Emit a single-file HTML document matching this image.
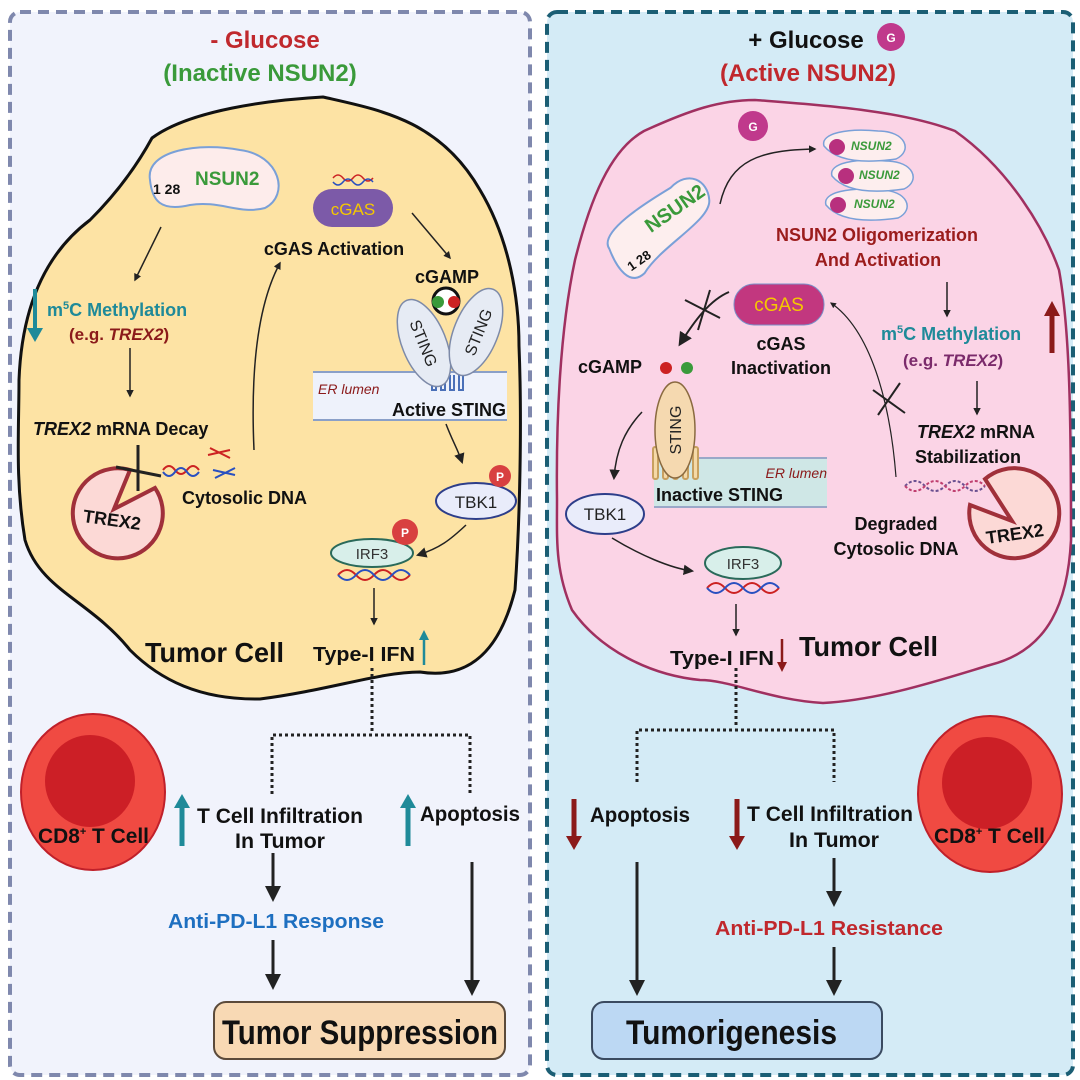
<!DOCTYPE html>
<html><head><meta charset="utf-8"><style>
html,body{margin:0;padding:0;background:#fff}
svg{display:block}
text{font-family:"Liberation Sans",sans-serif;font-weight:bold}
</style></head><body>
<svg width="1080" height="1080" viewBox="0 0 1080 1080" xmlns="http://www.w3.org/2000/svg">
<defs>
<marker id="ah" viewBox="0 0 10 10" refX="8" refY="5" markerWidth="5" markerHeight="5" orient="auto"><path d="M0,0L10,5L0,10z" fill="#222"/></marker>
<marker id="ahs" viewBox="0 0 10 10" refX="8" refY="5" markerWidth="7" markerHeight="7" orient="auto"><path d="M0,0L10,5L0,10z" fill="#222"/></marker>
</defs>
<rect x="10" y="12" width="520" height="1063" rx="10" fill="#f1f3fc" stroke="#7f88ad" stroke-width="4" stroke-dasharray="11,7"/>
<rect x="547" y="12" width="526" height="1063" rx="10" fill="#d4ebf6" stroke="#1b5e74" stroke-width="4" stroke-dasharray="11,7"/>

<path d="M152,138 C190,110 270,100 323,97 C380,110 440,120 480,190 C510,240 519,300 519,346 C522,420 520,520 515,590 C500,650 470,680 420,672 C380,672 330,690 260,699 C200,700 160,680 130,650 C90,600 40,590 25,540 C15,480 19,430 19,380 C22,300 50,250 90,220 C120,190 140,160 152,138Z" fill="#fde3a4" stroke="#111" stroke-width="3"/>
<path d="M644,131 C690,110 720,100 755,100 C820,105 900,110 955,131 C1010,170 1045,230 1059,270 C1070,330 1071,420 1071,540 C1068,600 1050,650 990,665 C940,680 880,700 823,703 C770,700 730,680 700,680 C650,675 600,650 572,610 C555,570 557,540 557,500 C556,420 560,330 575,260 C590,200 610,150 644,131Z" fill="#fbd4e6" stroke="#a03060" stroke-width="2.5"/>

<text x="265" y="48" font-size="24" fill="#c0282d" text-anchor="middle">- Glucose</text>
<text x="260" y="81" font-size="24" fill="#3a9a3a" text-anchor="middle">(Inactive NSUN2)</text>
<text x="806" y="48" font-size="24" fill="#111" text-anchor="middle">+ Glucose</text>
<circle cx="891" cy="37" r="14" fill="#c0398c"/><text x="891" y="42" font-size="12" fill="#fff" text-anchor="middle">G</text>
<text x="808" y="81" font-size="24" fill="#c0282d" text-anchor="middle">(Active NSUN2)</text>

<path d="M150,180 C145,150 200,142 240,150 C280,155 290,195 265,208 C240,215 220,200 190,205 C160,212 152,200 150,180Z" fill="#fdeceb" stroke="#7aa0d8" stroke-width="2"/>
<text x="153" y="194" font-size="14" fill="#111">1 28</text>
<text x="195" y="185" font-size="19" fill="#3a9a3a">NSUN2</text>
<path d="M333,178 q5,-6 10,0 t10,0 t10,0 t10,0" stroke="#c22" stroke-width="1.5" fill="none"/>
<path d="M333,182 q5,6 10,0 t10,0 t10,0 t10,0" stroke="#2950c0" stroke-width="1.5" fill="none"/>
<rect x="313" y="189" width="80" height="38" rx="19" fill="#7c5aa8"/>
<text x="353" y="215" font-size="17" fill="#f5c800" text-anchor="middle" style="font-weight:normal">cGAS</text>
<text x="334" y="255" font-size="18" fill="#111" text-anchor="middle">cGAS Activation</text>
<line x1="161" y1="227" x2="135" y2="280" stroke="#222" stroke-width="1.5" marker-end="url(#ah)"/>
<line x1="35" y1="289" x2="35" y2="330" stroke="#1f8a99" stroke-width="4"/>
<path d="M27,328 L43,328 L35,342Z" fill="#1f8a99"/>
<text x="47" y="316" font-size="18" fill="#1f8a99">m<tspan font-size="11" dy="-7">5</tspan><tspan dy="7">C Methylation</tspan></text>
<text x="69" y="340" font-size="17" fill="#8b1a1a">(e.g. <tspan font-style="italic">TREX2</tspan>)</text>
<line x1="130" y1="348" x2="130" y2="396" stroke="#222" stroke-width="1.5" marker-end="url(#ah)"/>
<text x="33" y="435" font-size="18" fill="#111"><tspan font-style="italic">TREX2</tspan> mRNA Decay</text>
<path d="M114,509 L130,470 A45,45 0 1,0 155,488 Z" fill="#fcd9d6" stroke="#a0303a" stroke-width="4"/>
<text x="112" y="526" font-size="18" fill="#111" text-anchor="middle" transform="rotate(8 112 520)">TREX2</text>
<line x1="138" y1="445" x2="138" y2="491" stroke="#222" stroke-width="3"/>
<line x1="116" y1="467" x2="161" y2="476" stroke="#222" stroke-width="3"/>
<path d="M163,470 q6,-8 12,0 t12,0 t12,0" stroke="#c22" stroke-width="2" fill="none"/>
<path d="M163,472 q6,8 12,0 t12,0 t12,0" stroke="#2950c0" stroke-width="2" fill="none"/>
<path d="M208,455 l22,-5 M210,448 l20,10" stroke="#c22" stroke-width="2"/>
<path d="M213,470 l22,5 M215,478 l20,-10" stroke="#2950c0" stroke-width="2"/>
<text x="182" y="504" font-size="18" fill="#111">Cytosolic DNA</text>
<path d="M254,450 C250,360 260,300 280,263" stroke="#222" stroke-width="1.5" fill="none" marker-end="url(#ah)"/>
<line x1="412" y1="213" x2="450" y2="258" stroke="#222" stroke-width="1.5" marker-end="url(#ah)"/>
<text x="447" y="283" font-size="18" fill="#111" text-anchor="middle">cGAMP</text>
<circle cx="446" cy="301" r="13" fill="#fff" stroke="#111" stroke-width="3"/>
<circle cx="438" cy="302" r="6" fill="#3a9a3a"/><circle cx="454" cy="302" r="6" fill="#c22"/>
<rect x="313" y="372" width="194" height="48" fill="#eef2fb"/>
<line x1="313" y1="372" x2="507" y2="372" stroke="#8aa0c8" stroke-width="2"/>
<line x1="313" y1="420" x2="507" y2="420" stroke="#8aa0c8" stroke-width="2"/>
<g stroke="#4a70b8" stroke-width="2" fill="none"><path d="M432,375 v15 h4 v-15 M441,375 v15 h4 v-15 M450,375 v15 h4 v-15 M459,375 v15 h4 v-15"/></g>
<ellipse cx="424" cy="343" rx="22" ry="46" transform="rotate(-22 424 343)" fill="#e6ebf4" stroke="#7d8aa8" stroke-width="1.5"/>
<ellipse cx="476" cy="332" rx="22" ry="46" transform="rotate(22 476 332)" fill="#e6ebf4" stroke="#7d8aa8" stroke-width="1.5"/>
<text x="424" y="349" font-size="16" fill="#222" text-anchor="middle" style="font-weight:normal" transform="rotate(68 424 343)">STING</text>
<text x="478" y="338" font-size="16" fill="#222" text-anchor="middle" style="font-weight:normal" transform="rotate(-68 478 332)">STING</text>
<text x="318" y="394" font-size="14" fill="#8b1a1a" font-style="italic" style="font-weight:normal">ER lumen</text>
<text x="506" y="416" font-size="18" fill="#111" text-anchor="end">Active STING</text>
<path d="M446,424 C452,440 458,450 462,462" stroke="#222" stroke-width="1.5" fill="none" marker-end="url(#ahs)"/>
<ellipse cx="476" cy="501" rx="40" ry="18" fill="#e9ecfa" stroke="#2d3e8a" stroke-width="2"/>
<text x="476" y="508" font-size="17" fill="#222" text-anchor="middle" style="font-weight:normal">TBK1</text>
<circle cx="500" cy="476" r="11" fill="#d84040"/><text x="500" y="481" font-size="12" fill="#fff" text-anchor="middle">P</text>
<path d="M466,525 C450,540 440,548 418,555" stroke="#222" stroke-width="1.5" fill="none" marker-end="url(#ahs)"/>
<ellipse cx="372" cy="553" rx="41" ry="14" fill="#d8efea" stroke="#2a6a5a" stroke-width="2"/>
<text x="372" y="559" font-size="15" fill="#333" text-anchor="middle" style="font-weight:normal">IRF3</text>
<circle cx="405" cy="532" r="13" fill="#d84040"/><text x="405" y="537" font-size="12" fill="#fff" text-anchor="middle">P</text>
<path d="M338,575 q9,-10 18,0 t18,0 t18,0 t18,0" stroke="#c22" stroke-width="2" fill="none"/>
<path d="M338,575 q9,10 18,0 t18,0 t18,0 t18,0" stroke="#2950c0" stroke-width="2" fill="none"/>
<line x1="374" y1="588" x2="374" y2="624" stroke="#222" stroke-width="1.5" marker-end="url(#ah)"/>
<text x="145" y="662" font-size="28" fill="#111" textLength="139" lengthAdjust="spacingAndGlyphs">Tumor Cell</text>
<text x="313" y="661" font-size="20" fill="#111" textLength="102" lengthAdjust="spacingAndGlyphs">Type-I IFN</text>
<line x1="424" y1="665" x2="424" y2="638" stroke="#1f8a99" stroke-width="2.5"/><path d="M419,640 L429,640 L424,630Z" fill="#1f8a99"/>

<g stroke="#222" stroke-width="3" stroke-dasharray="3,3" fill="none"><path d="M372,668 V733 M272,794 V735 H470 V794"/></g>
<ellipse cx="93" cy="792" rx="72" ry="78" fill="#f04a42" stroke="#c0202a" stroke-width="2"/>
<ellipse cx="90" cy="781" rx="45" ry="46" fill="#cc1f26"/>
<text x="38" y="843" font-size="21" fill="#111" textLength="111" lengthAdjust="spacingAndGlyphs">CD8<tspan font-size="11" dy="-8">+</tspan><tspan dy="8"> T Cell</tspan></text>
<line x1="182" y1="846" x2="182" y2="806" stroke="#1f8a99" stroke-width="5"/><path d="M174,808 L190,808 L182,794Z" fill="#1f8a99"/>
<text x="197" y="823" font-size="21" fill="#111" textLength="166" lengthAdjust="spacingAndGlyphs">T Cell Infiltration</text>
<text x="235" y="848" font-size="21" fill="#111" textLength="90" lengthAdjust="spacingAndGlyphs">In Tumor</text>
<line x1="408" y1="846" x2="408" y2="806" stroke="#1f8a99" stroke-width="5"/><path d="M400,808 L416,808 L408,794Z" fill="#1f8a99"/>
<text x="420" y="821" font-size="21" fill="#111" textLength="100" lengthAdjust="spacingAndGlyphs">Apoptosis</text>
<g stroke="#222" stroke-width="3"><line x1="273" y1="853" x2="273" y2="888"/><line x1="273" y1="940" x2="273" y2="976"/><line x1="472" y1="862" x2="472" y2="982"/></g>
<g fill="#222"><path d="M265,886 L281,886 L273,902Z"/><path d="M265,974 L281,974 L273,990Z"/><path d="M464,980 L480,980 L472,996Z"/></g>
<text x="168" y="928" font-size="20" fill="#1e6fc0" textLength="216" lengthAdjust="spacingAndGlyphs">Anti-PD-L1 Response</text>
<rect x="214" y="1002" width="291" height="57" rx="12" fill="#f8d9b4" stroke="#5b4a3a" stroke-width="2"/>
<text x="222" y="1044" font-size="34" fill="#111" textLength="276" lengthAdjust="spacingAndGlyphs">Tumor Suppression</text>

<circle cx="753" cy="126" r="15" fill="#c0398c"/><text x="753" y="131" font-size="12" fill="#fff" text-anchor="middle">G</text>
<g transform="rotate(-35 661 225)">
<path d="M605,215 C605,195 660,198 690,200 C715,195 725,215 715,232 C705,250 650,242 620,255 C600,258 600,235 605,215Z" fill="#fdeeee" stroke="#7aa0d8" stroke-width="2"/>
<text x="648" y="226" font-size="20" fill="#3a9a3a">NSUN2</text>
<text x="610" y="246" font-size="13" fill="#111">1 28</text>
</g>
<path d="M720,204 C730,160 760,150 815,149" stroke="#222" stroke-width="1.5" fill="none" marker-end="url(#ah)"/>
<g>
<path d="M826,205 C822,192 850,187 880,190 C908,190 915,210 898,218 C870,222 840,222 826,205Z" fill="#fdeeee" stroke="#7aa0d8" stroke-width="1.5"/>
<path d="M832,176 C828,163 856,158 886,161 C914,161 921,181 904,189 C876,193 846,193 832,176Z" fill="#fdeeee" stroke="#7aa0d8" stroke-width="1.5"/>
<path d="M824,146 C820,133 848,128 878,131 C906,131 913,151 896,159 C868,163 838,163 824,146Z" fill="#fdeeee" stroke="#7aa0d8" stroke-width="1.5"/>
<circle cx="837" cy="147" r="8" fill="#b8307e"/><circle cx="846" cy="176" r="8" fill="#b8307e"/><circle cx="838" cy="205" r="8" fill="#b8307e"/>
<text x="851" y="150" font-size="12" fill="#3a9a3a" font-style="italic">NSUN2</text>
<text x="859" y="179" font-size="12" fill="#3a9a3a" font-style="italic">NSUN2</text>
<text x="854" y="208" font-size="12" fill="#3a9a3a" font-style="italic">NSUN2</text>
</g>
<text x="877" y="241" font-size="18" fill="#9b1c1c" text-anchor="middle">NSUN2 Oligomerization</text>
<text x="878" y="266" font-size="18" fill="#9b1c1c" text-anchor="middle">And Activation</text>
<line x1="947" y1="282" x2="947" y2="316" stroke="#222" stroke-width="1.5" marker-end="url(#ah)"/>
<rect x="734" y="284" width="90" height="41" rx="20" fill="#c2377f" stroke="#7a90c8" stroke-width="1"/>
<text x="779" y="311" font-size="19" fill="#f5c800" text-anchor="middle" style="font-weight:normal">cGAS</text>
<text x="781" y="350" font-size="18" fill="#111" text-anchor="middle">cGAS</text>
<text x="781" y="374" font-size="18" fill="#111" text-anchor="middle">Inactivation</text>
<path d="M729,292 C710,300 695,320 680,344" stroke="#222" stroke-width="2" fill="none" marker-end="url(#ahs)"/>
<line x1="685" y1="300" x2="720" y2="318" stroke="#222" stroke-width="2"/><line x1="710" y1="290" x2="698" y2="330" stroke="#222" stroke-width="2"/>
<text x="881" y="340" font-size="18" fill="#1f8a99">m<tspan font-size="11" dy="-7">5</tspan><tspan dy="7">C Methylation</tspan></text>
<line x1="1052" y1="353" x2="1052" y2="315" stroke="#8b1a1a" stroke-width="5"/><path d="M1044,316 L1060,316 L1052,301Z" fill="#8b1a1a"/>
<text x="903" y="366" font-size="17" fill="#7b2a6b">(e.g. <tspan font-style="italic">TREX2</tspan>)</text>
<line x1="977" y1="381" x2="977" y2="414" stroke="#222" stroke-width="1.5" marker-end="url(#ah)"/>
<text x="917" y="438" font-size="18" fill="#111"><tspan font-style="italic">TREX2</tspan> mRNA</text>
<text x="915" y="463" font-size="18" fill="#111">Stabilization</text>
<path d="M896,477 C890,400 870,330 831,303" stroke="#222" stroke-width="1.2" fill="none" marker-end="url(#ah)"/>
<line x1="873" y1="390" x2="905" y2="413" stroke="#222" stroke-width="2"/><line x1="900" y1="383" x2="878" y2="415" stroke="#222" stroke-width="2"/>
<text x="578" y="373" font-size="18" fill="#111">cGAMP</text>
<circle cx="666" cy="368" r="6" fill="#c22"/><circle cx="687" cy="368" r="6" fill="#3a9a3a"/>
<rect x="654" y="458" width="173" height="49" fill="#cfe7e6"/>
<line x1="654" y1="458" x2="827" y2="458" stroke="#9aa8c8" stroke-width="2"/><line x1="654" y1="507" x2="827" y2="507" stroke="#9aa8c8" stroke-width="2"/>
<g stroke="#c8a060" stroke-width="2" fill="#f5d9a8"><rect x="653" y="447" width="5" height="32" rx="2"/><rect x="663" y="447" width="5" height="32" rx="2"/><rect x="673" y="447" width="5" height="32" rx="2"/><rect x="683" y="447" width="5" height="32" rx="2"/><rect x="693" y="447" width="5" height="32" rx="2"/></g>
<ellipse cx="675" cy="430" rx="20" ry="48" fill="#f5d9b0" stroke="#8a6a40" stroke-width="1.5"/>
<text x="675" y="436" font-size="16" fill="#222" text-anchor="middle" style="font-weight:normal" transform="rotate(-90 675 430)">STING</text>
<text x="827" y="478" font-size="14" fill="#8b1a1a" font-style="italic" text-anchor="end" style="font-weight:normal">ER lumen</text>
<text x="656" y="501" font-size="18" fill="#111">Inactive STING</text>
<path d="M642,412 C625,430 616,450 614,478" stroke="#222" stroke-width="1.5" fill="none" marker-end="url(#ahs)"/>
<ellipse cx="605" cy="514" rx="39" ry="20" fill="#e9ecfa" stroke="#2d3e8a" stroke-width="2"/>
<text x="605" y="520" font-size="17" fill="#222" text-anchor="middle" style="font-weight:normal">TBK1</text>
<path d="M612,538 C640,555 670,568 692,571" stroke="#222" stroke-width="1.5" fill="none" marker-end="url(#ahs)"/>
<ellipse cx="743" cy="563" rx="38" ry="16" fill="#d8efea" stroke="#2a6a5a" stroke-width="2"/>
<text x="743" y="569" font-size="15" fill="#333" text-anchor="middle" style="font-weight:normal">IRF3</text>
<path d="M707,588 q9,-10 18,0 t18,0 t18,0 t18,0" stroke="#c22" stroke-width="2" fill="none"/>
<path d="M707,588 q9,10 18,0 t18,0 t18,0 t18,0" stroke="#2950c0" stroke-width="2" fill="none"/>
<path d="M905,486 q10,-10 20,0 t20,0 t20,0 t20,0" stroke="#6a5090" stroke-width="2" stroke-dasharray="3,2" fill="none"/>
<path d="M905,486 q10,10 20,0 t20,0 t20,0 t20,0" stroke="#c04070" stroke-width="2" stroke-dasharray="3,2" fill="none"/>
<path d="M1012,521 L985,479 A45,45 0 1,1 970,505 Z" fill="#fcd9d6" stroke="#a0303a" stroke-width="4"/>
<text x="1015" y="540" font-size="18" fill="#111" text-anchor="middle" transform="rotate(-8 1015 535)">TREX2</text>
<text x="896" y="530" font-size="18" fill="#111" text-anchor="middle">Degraded</text>
<text x="896" y="555" font-size="18" fill="#111" text-anchor="middle">Cytosolic DNA</text>
<line x1="736" y1="604" x2="736" y2="635" stroke="#222" stroke-width="1.5" marker-end="url(#ah)"/>
<text x="799" y="656" font-size="28" fill="#111" textLength="139" lengthAdjust="spacingAndGlyphs">Tumor Cell</text>
<text x="670" y="665" font-size="20" fill="#111" textLength="104" lengthAdjust="spacingAndGlyphs">Type-I IFN</text>
<line x1="782" y1="639" x2="782" y2="664" stroke="#8b1a1a" stroke-width="2.5"/><path d="M777,662 L787,662 L782,672Z" fill="#8b1a1a"/>

<g stroke="#222" stroke-width="3" stroke-dasharray="3,3" fill="none"><path d="M736,668 V728 M637,782 V730 H834 V782"/></g>
<ellipse cx="990" cy="794" rx="72" ry="78" fill="#f04a42" stroke="#c0202a" stroke-width="2"/>
<ellipse cx="987" cy="783" rx="45" ry="46" fill="#cc1f26"/>
<text x="934" y="843" font-size="21" fill="#111" textLength="111" lengthAdjust="spacingAndGlyphs">CD8<tspan font-size="11" dy="-8">+</tspan><tspan dy="8"> T Cell</tspan></text>
<line x1="574" y1="799" x2="574" y2="838" stroke="#8b1a1a" stroke-width="5"/><path d="M566,836 L582,836 L574,850Z" fill="#8b1a1a"/>
<text x="590" y="822" font-size="21" fill="#111" textLength="100" lengthAdjust="spacingAndGlyphs">Apoptosis</text>
<line x1="737" y1="799" x2="737" y2="838" stroke="#8b1a1a" stroke-width="5"/><path d="M729,836 L745,836 L737,850Z" fill="#8b1a1a"/>
<text x="747" y="821" font-size="21" fill="#111" textLength="166" lengthAdjust="spacingAndGlyphs">T Cell Infiltration</text>
<text x="789" y="847" font-size="21" fill="#111" textLength="90" lengthAdjust="spacingAndGlyphs">In Tumor</text>
<g stroke="#222" stroke-width="3"><line x1="637" y1="862" x2="637" y2="982"/><line x1="834" y1="858" x2="834" y2="893"/><line x1="834" y1="947" x2="834" y2="982"/></g>
<g fill="#222"><path d="M629,980 L645,980 L637,996Z"/><path d="M826,891 L842,891 L834,907Z"/><path d="M826,980 L842,980 L834,996Z"/></g>
<text x="715" y="935" font-size="20" fill="#c0282d" textLength="228" lengthAdjust="spacingAndGlyphs">Anti-PD-L1 Resistance</text>
<rect x="592" y="1002" width="290" height="57" rx="12" fill="#bcd8f3" stroke="#3a4a60" stroke-width="2"/>
<text x="626" y="1044" font-size="34" fill="#111" textLength="211" lengthAdjust="spacingAndGlyphs">Tumorigenesis</text>
</svg>
</body></html>
